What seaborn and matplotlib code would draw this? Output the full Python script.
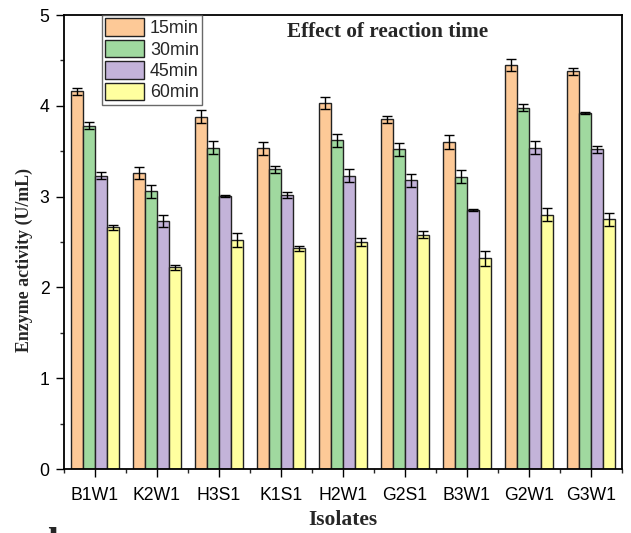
import numpy as np
import pandas as pd
import matplotlib
matplotlib.use("Agg")
import matplotlib.pyplot as plt
import seaborn as sns
from matplotlib.ticker import MultipleLocator

isolates = ["B1W1", "K2W1", "H3S1", "K1S1", "H2W1", "G2S1", "B3W1", "G2W1", "G3W1"]
times = ["15min", "30min", "45min", "60min"]
v15 = [4.16, 3.26, 3.88, 3.53, 4.03, 3.85, 3.60, 4.45, 4.38]
v30 = [3.78, 3.06, 3.54, 3.30, 3.62, 3.52, 3.22, 3.98, 3.92]
v45 = [3.23, 2.73, 3.01, 3.02, 3.23, 3.18, 2.85, 3.54, 3.52]
v60 = [2.66, 2.22, 2.52, 2.43, 2.50, 2.58, 2.32, 2.80, 2.75]
e15 = [0.04, 0.07, 0.07, 0.07, 0.07, 0.04, 0.08, 0.07, 0.04]
e30 = [0.04, 0.07, 0.07, 0.04, 0.07, 0.07, 0.07, 0.04, 0.01]
e45 = [0.04, 0.07, 0.01, 0.03, 0.07, 0.07, 0.01, 0.07, 0.04]
e60 = [0.03, 0.03, 0.08, 0.03, 0.04, 0.04, 0.08, 0.07, 0.07]
colors = ["#FDC997", "#A0D99F", "#C3B3D9", "#FFFF9F"]

rows = []
for t, vals, errs in zip(times, [v15, v30, v45, v60], [e15, e30, e45, e60]):
    for iso, v, e in zip(isolates, vals, errs):
        rows.append({"Isolate": iso, "Time": t, "Value": v, "Err": e})
df = pd.DataFrame(rows)

sns.set_style("ticks")
fig = plt.figure(figsize=(6.31, 5.33), dpi=100)
ax = fig.add_axes([64/631, 64/533, 558/631, 454/533])

sns.barplot(data=df, x="Isolate", y="Value", hue="Time", order=isolates,
            hue_order=times, palette=colors, width=0.77, errorbar=None,
            edgecolor="#222222", linewidth=1.0, saturation=1, ax=ax)

# error bars at bar centres
for cont, t in zip(ax.containers, times):
    sub = df[df.Time == t].set_index("Isolate").loc[isolates]
    xs = [p.get_x() + p.get_width() / 2 for p in cont.patches]
    ax.errorbar(xs, sub.Value.values, yerr=sub.Err.values, fmt="none",
                ecolor="black", elinewidth=1.0, capsize=3.7, capthick=1.0, zorder=5)

ax.set_xlim(-0.5, 8.5)
ax.set_ylim(0, 5)
ax.yaxis.set_major_locator(MultipleLocator(1))
ax.yaxis.set_minor_locator(MultipleLocator(0.5))
ax.set_xticks(np.arange(9))
ax.set_xticks(np.arange(-0.5, 9, 1), minor=True)
ax.tick_params(axis="both", which="major", direction="out", length=6, width=1,
               labelsize=12.7, colors="black")
ax.tick_params(axis="x", which="major", pad=7)
ax.tick_params(axis="y", which="major", pad=4.5)
ax.tick_params(axis="both", which="minor", direction="out", length=3, width=1)
for lab in ax.get_xticklabels() + ax.get_yticklabels():
    lab.set_fontfamily("Liberation Sans")
for s in ax.spines.values():
    s.set_visible(True)
    s.set_linewidth(1.3)
    s.set_color("black")

ax.set_xlabel("Isolates", fontfamily="Liberation Serif", fontweight="bold",
              fontsize=15.5, labelpad=4)
ax.set_ylabel("Enzyme activity (U/mL)", fontfamily="Liberation Serif",
              fontweight="bold", fontsize=12.9)
ax.yaxis.set_label_coords(-0.0717, 0.46)
ax.yaxis.label.set_va("center")

ax.text(0.579, 0.962, "Effect of reaction time", transform=ax.transAxes,
        ha="center", va="center", fontfamily="Liberation Serif",
        fontweight="bold", fontsize=15.3)

leg = ax.legend(loc="upper left", bbox_to_anchor=(0.0676, 1.0), frameon=True,
                fancybox=False, edgecolor="#444444",
                prop={"family": "Liberation Sans", "size": 12.9},
                handlelength=2.18, handleheight=1.12, handletextpad=0.33,
                labelspacing=0.15, borderpad=0.18, borderaxespad=0)
leg.get_frame().set_linewidth(1.0)

fig.text(36/631, -22/533, "d", fontfamily="Liberation Serif",
         fontweight="bold", fontsize=28, ha="left", va="baseline")

fig.savefig("out.png", dpi=100)
